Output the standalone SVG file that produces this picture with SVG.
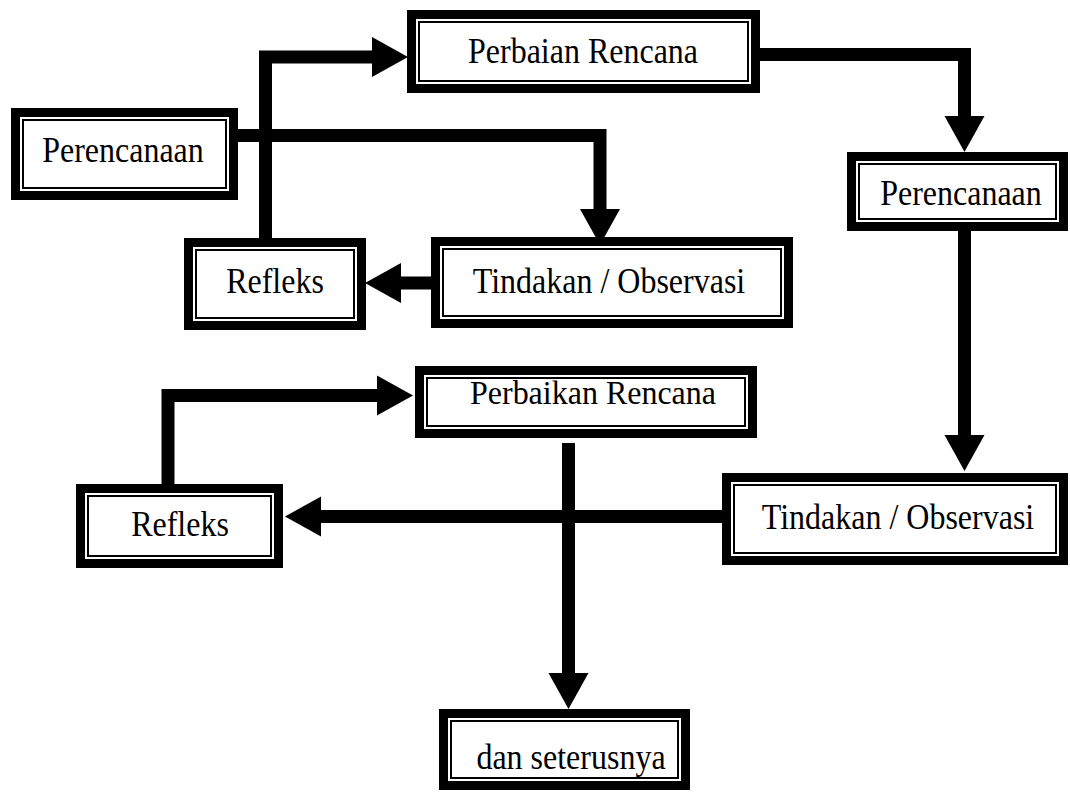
<svg xmlns="http://www.w3.org/2000/svg" width="1070" height="794" viewBox="0 0 1070 794">
<style>
.outer{fill:#fff;stroke:#000;stroke-width:9}
.inner{fill:none;stroke:#000;stroke-width:2}
.lbl{font-family:"Liberation Serif","Times New Roman",serif;font-size:32px;fill:#000;text-anchor:middle}
.conn{fill:none;stroke:#000;stroke-width:13;stroke-linejoin:miter;marker-end:url(#ah)}
</style>
<defs>
<marker id="ah" markerUnits="userSpaceOnUse" viewBox="0 -21 37 42" refX="0" refY="0" markerWidth="37" markerHeight="42" orient="auto">
<path d="M0,-20 L36,0 L0,20 Z" fill="#000"/>
</marker>
</defs>
<rect width="1070" height="794" fill="#fff"/>
<g id="connectors">
<path class="conn" d="M265.5,238 V57 H372"/>
<path class="conn" d="M238,135.5 H600 V209"/>
<path class="conn" d="M431,283 H401"/>
<path class="conn" d="M760,54.5 H964.5 V116"/>
<path class="conn" d="M964.5,231 V435"/>
<path class="conn" d="M722,516.5 H321"/>
<path class="conn" d="M168,484 V395.5 H377"/>
<path class="conn" d="M568.5,443 V673"/>
</g>
<g id="n1">
<rect class="outer" x="15.5" y="112.5" width="218" height="83"/>
<rect class="inner" x="23" y="120" width="203" height="68"/>
<text class="lbl" transform="translate(123,162) scale(1,1.1)">Perencanaan</text>
</g>
<g id="n2">
<rect class="outer" x="411.5" y="14.5" width="344" height="74"/>
<rect class="inner" x="419" y="22" width="329" height="59"/>
<text class="lbl" transform="translate(583,63) scale(1,1.1)">Perbaian Rencana</text>
</g>
<g id="n3">
<rect class="outer" x="188.5" y="242.5" width="173" height="83"/>
<rect class="inner" x="196" y="250" width="158" height="68"/>
<text class="lbl" transform="translate(275,293) scale(1,1.1)">Refleks</text>
</g>
<g id="n4">
<rect class="outer" x="435.5" y="241.5" width="353" height="82"/>
<rect class="inner" x="443" y="249" width="338" height="67"/>
<text class="lbl" transform="translate(609,293) scale(1,1.1)">Tindakan / Observasi</text>
</g>
<g id="n5">
<rect class="outer" x="851.5" y="156.5" width="212" height="70"/>
<rect class="inner" x="859" y="164" width="197" height="55"/>
<text class="lbl" transform="translate(961,205) scale(1,1.1)">Perencanaan</text>
</g>
<g id="n6">
<rect class="outer" x="419.5" y="370.5" width="333" height="63"/>
<rect class="inner" x="427" y="378" width="318" height="48"/>
<text class="lbl" transform="translate(593,404) scale(1,1.05)">Perbaikan Rencana</text>
</g>
<g id="n7">
<rect class="outer" x="80.5" y="488.5" width="198" height="75"/>
<rect class="inner" x="88" y="496" width="183" height="60"/>
<text class="lbl" transform="translate(180,536) scale(1,1.1)">Refleks</text>
</g>
<g id="n8">
<rect class="outer" x="726.5" y="477.5" width="337" height="83"/>
<rect class="inner" x="734" y="485" width="322" height="68"/>
<text class="lbl" transform="translate(898,529) scale(1,1.1)">Tindakan / Observasi</text>
</g>
<g id="n9">
<rect class="outer" x="443.5" y="713.5" width="242" height="72"/>
<rect class="inner" x="451" y="721" width="227" height="57"/>
<text class="lbl" transform="translate(571,769) scale(1,1.1)">dan seterusnya</text>
</g>
</svg>
